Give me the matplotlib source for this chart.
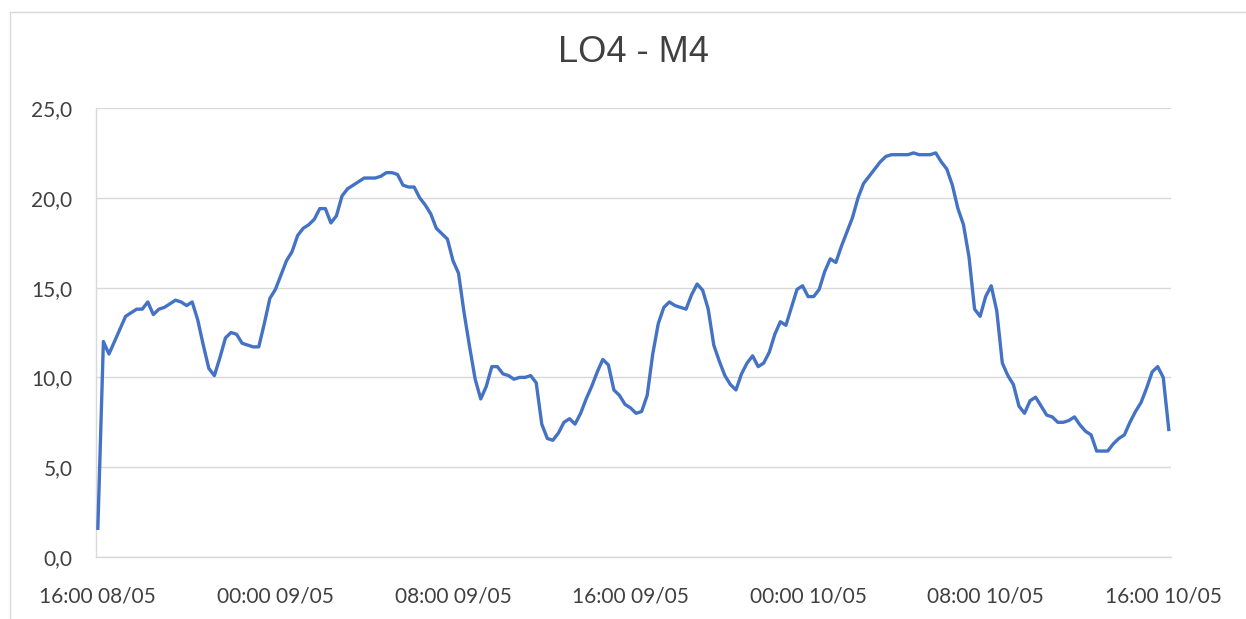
import numpy as np
import pandas as pd
import matplotlib.pyplot as plt
import matplotlib.dates as mdates
from matplotlib.lines import Line2D
from matplotlib.ticker import FuncFormatter

# readings every 15 min starting 16:00 08/05
start_time = '2023-05-08 16:00'
step = '15min'
values = [
    1.6, 12.0, 11.3, 12.0, 12.7, 13.4, 13.6, 13.8, 13.8, 14.2,
    13.5, 13.8, 13.9, 14.1, 14.3, 14.2, 14.0, 14.2, 13.2, 11.8,
    10.5, 10.1, 11.1, 12.2, 12.5, 12.4, 11.9, 11.8, 11.7, 11.7,
    13.0, 14.4, 14.9, 15.7, 16.5, 17.0, 17.9, 18.3, 18.5, 18.8,
    19.4, 19.4, 18.6, 19.0, 20.1, 20.5, 20.7, 20.9, 21.1, 21.1,
    21.1, 21.2, 21.4, 21.4, 21.3, 20.7, 20.6, 20.6, 20.0, 19.6,
    19.1, 18.3, 18.0, 17.7, 16.5, 15.8, 13.6, 11.7, 9.9, 8.8,
    9.5, 10.6, 10.6, 10.2, 10.1, 9.9, 10.0, 10.0, 10.1, 9.7,
    7.4, 6.6, 6.5, 6.9, 7.5, 7.7, 7.4, 8.0, 8.8, 9.5,
    10.3, 11.0, 10.7, 9.3, 9.0, 8.5, 8.3, 8.0, 8.1, 9.0,
    11.3, 13.0, 13.9, 14.2, 14.0, 13.9, 13.8, 14.6, 15.2, 14.85,
    13.8, 11.8, 10.9, 10.1, 9.6, 9.3, 10.2, 10.8, 11.2, 10.6,
    10.8, 11.4, 12.4, 13.1, 12.9, 13.9, 14.9, 15.1, 14.5, 14.5,
    14.9, 15.9, 16.6, 16.4, 17.3, 18.1, 18.9, 20.0, 20.8, 21.2,
    21.6, 22.0, 22.3, 22.4, 22.4, 22.4, 22.4, 22.5, 22.4, 22.4,
    22.4, 22.5, 22.0, 21.6, 20.7, 19.4, 18.5, 16.7, 13.8, 13.4,
    14.5, 15.1, 13.7, 10.8, 10.1, 9.6, 8.4, 8.0, 8.7, 8.9,
    8.4, 7.9, 7.8, 7.5, 7.5, 7.6, 7.8, 7.35, 7.0, 6.8,
    5.9, 5.9, 5.9, 6.3, 6.6, 6.8, 7.5, 8.1, 8.6, 9.4,
    10.3, 10.6, 10.0, 7.1,
]
times = pd.date_range(start_time, periods=len(values), freq=step)
title = 'LO4 - M4'
y_ticks = [0, 5, 10, 15, 20, 25]

text_col = '#404040'
grid_col = '#D9D9D9'
plt.rcParams['font.family'] = ['Lato', 'DejaVu Sans']

W, H = 1246, 619
fig = plt.figure(figsize=(W / 100, H / 100), dpi=100)

# chart frame (top + left edges visible in the crop)
fig.add_artist(Line2D([10 / W, 1], [1 - 12 / H, 1 - 12 / H], color=grid_col, lw=1.0))
fig.add_artist(Line2D([10 / W, 10 / W], [0, 1 - 12 / H], color=grid_col, lw=1.0))

ax = fig.add_axes([96 / W, 1 - 557 / H, (1171 - 96) / W, (557 - 108) / H])
ax.plot(times, values, color='#4472C4', lw=2.4, solid_joinstyle='round', zorder=3)

t0 = pd.Timestamp(start_time)
ax.set_xlim(mdates.date2num(t0 - pd.Timedelta(minutes=5)),
            mdates.date2num(t0 + pd.Timedelta(hours=48, minutes=21)))
ax.set_ylim(0, 25)
ax.set_yticks(y_ticks)
ax.yaxis.set_major_formatter(FuncFormatter(lambda v, p: f'{v:.1f}'.replace('.', ',')))
ax.xaxis.set_major_locator(mdates.HourLocator(byhour=[0, 8, 16]))
ax.xaxis.set_major_formatter(mdates.DateFormatter('%H:%M %d/%m'))

ax.grid(axis='y', color=grid_col, lw=1.0)
ax.set_axisbelow(True)
for s in ['top', 'right']:
    ax.spines[s].set_visible(False)
ax.spines['left'].set_color(grid_col)
ax.spines['bottom'].set_color(grid_col)
ax.spines['left'].set_linewidth(1.0)
ax.spines['bottom'].set_linewidth(1.0)
ax.tick_params(axis='both', length=0, labelsize=15, labelcolor=text_col)
ax.tick_params(axis='y', pad=17)
ax.tick_params(axis='x', pad=21)

fig.text(633 / W, 1 - 53 / H, title, ha='center', va='center', fontsize=26,
         color=text_col, family=['Liberation Sans', 'DejaVu Sans'])

fig.savefig('out.png', dpi=100, facecolor='white')
